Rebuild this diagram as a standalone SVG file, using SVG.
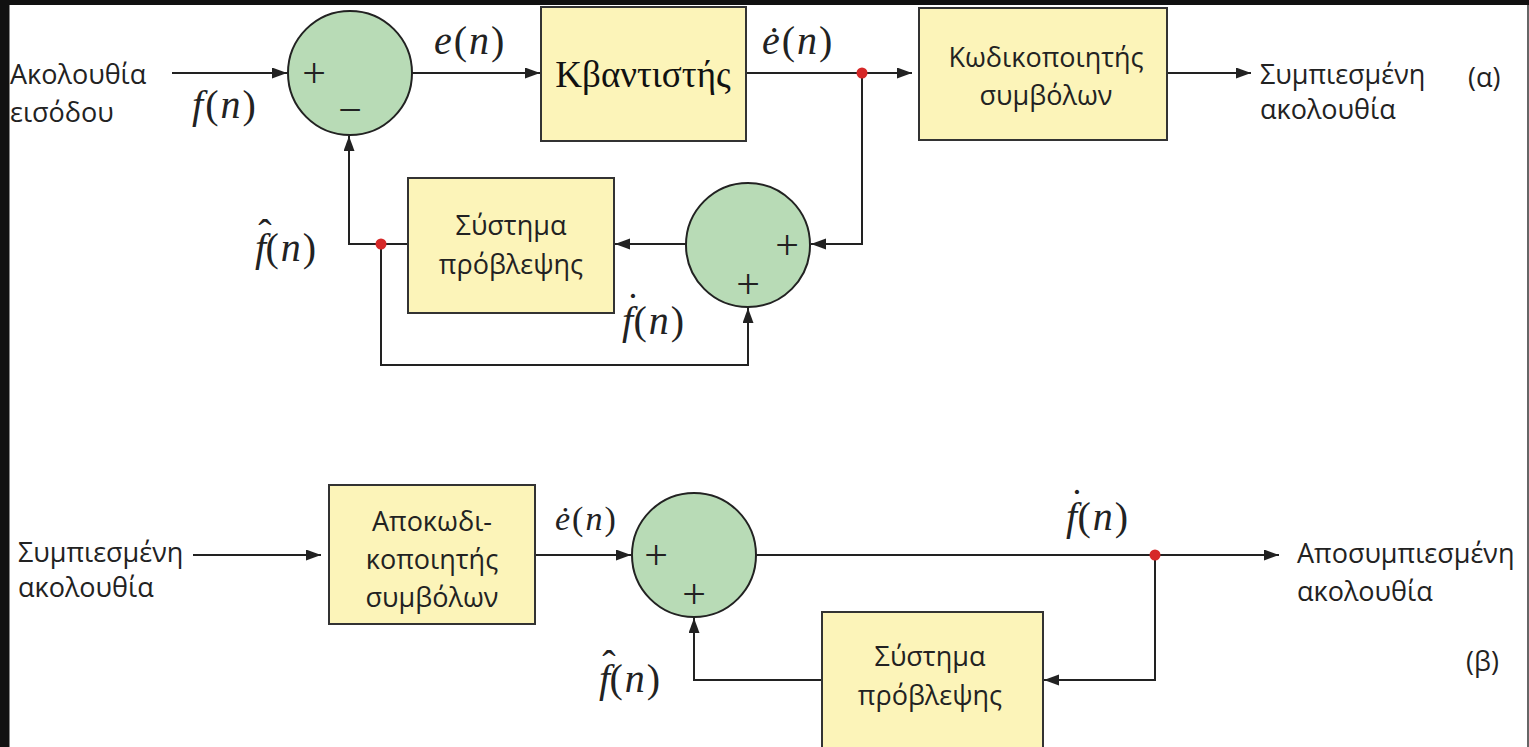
<svg xmlns="http://www.w3.org/2000/svg" width="1529" height="747" viewBox="0 0 1529 747">
<style>
.box{fill:#fcf4b9;stroke:#333;stroke-width:2}
.sum{fill:#b8dbb6;stroke:#222;stroke-width:2}
.ln{fill:none;stroke:#222;stroke-width:2}
.dot{fill:#d62828}
.t{font-family:"Open Sans","Noto Sans",sans-serif;font-size:27px;fill:#222}
.c{text-anchor:middle}
.m{font-family:"Liberation Serif",serif;font-size:40px;fill:#222;letter-spacing:2px}
.i{font-style:italic}
.sg{font-family:"Liberation Serif",serif;font-size:42px;fill:#222;text-anchor:middle}
.kv{font-family:"Liberation Serif",serif;font-size:37px;fill:#111;text-anchor:middle}
</style>
<defs>
<marker id="ar" markerUnits="userSpaceOnUse" markerWidth="16" markerHeight="12" refX="15" refY="5.5" orient="auto">
<path d="M0,0 L15,5.5 L0,11 z" fill="#222"/>
</marker>
</defs>
<rect x="0" y="0" width="1529" height="747" fill="#fff"/>
<rect x="0" y="0" width="1529" height="5" fill="#111"/>
<rect x="0" y="0" width="9" height="747" fill="#111"/>
<rect x="9" y="5" width="1" height="742" fill="#888"/>
<rect x="1527" y="5" width="2" height="742" fill="#666"/>

<g id="connectors">
<path class="ln" marker-end="url(#ar)" d="M172,73 H287"/>
<path class="ln" marker-end="url(#ar)" d="M412,73 H540"/>
<path class="ln" marker-end="url(#ar)" d="M747,73 H912"/>
<path class="ln" marker-end="url(#ar)" d="M1167,73 H1251"/>
<path class="ln" marker-end="url(#ar)" d="M862,73 V244 H811"/>
<path class="ln" marker-end="url(#ar)" d="M686,244 H615"/>
<path class="ln" marker-end="url(#ar)" d="M408,244 H349 V136"/>
<path class="ln" marker-end="url(#ar)" d="M381,244 V365 H748 V308"/>
<path class="ln" marker-end="url(#ar)" d="M193,555 H321"/>
<path class="ln" marker-end="url(#ar)" d="M535,555 H631"/>
<path class="ln" marker-end="url(#ar)" d="M756,555 H1279"/>
<path class="ln" marker-end="url(#ar)" d="M1155,555 V680 H1044"/>
<path class="ln" marker-end="url(#ar)" d="M822,680 H694 V618"/>
<circle class="dot" cx="862" cy="73" r="5.5"/>
<circle class="dot" cx="381" cy="244" r="5.5"/>
<circle class="dot" cx="1155" cy="555" r="5.5"/>
</g>

<g id="in-a">
<text class="t" x="10" y="84">Ακολουθία</text>
<text class="t" x="10" y="122">εισόδου</text>
</g>
<g id="label-fn"><text class="m" x="192" y="118"><tspan class="i">f</tspan>(<tspan class="i">n</tspan>)</text></g>

<g id="sum1">
<circle class="sum" cx="350" cy="73" r="62"/>
<text class="sg" x="314" y="87">+</text>
<text class="sg" x="350" y="124">−</text>
</g>
<g id="label-en"><text class="m" x="434" y="54"><tspan class="i">e</tspan>(<tspan class="i">n</tspan>)</text></g>

<g id="quantizer">
<rect class="box" x="541" y="7" width="205" height="134"/>
<text class="kv" x="643" y="87">Κβαντιστής</text>
</g>
<g id="label-edot">
<text class="m" x="762" y="54"><tspan class="i">ė</tspan>(<tspan class="i">n</tspan>)</text>
</g>

<g id="encoder">
<rect class="box" x="919" y="8" width="248" height="132"/>
<text class="t c" x="1046" y="67">Κωδικοποιητής</text>
<text class="t c" x="1046" y="105">συμβόλων</text>
</g>
<g id="out-a">
<text class="t" x="1260" y="84">Συμπιεσμένη</text>
<text class="t" x="1260" y="119">ακολουθία</text>
<text class="t" x="1468" y="87">(α)</text>
</g>

<g id="predictor-a">
<rect class="box" x="408" y="178" width="206" height="135"/>
<text class="t c" x="511" y="235">Σύστημα</text>
<text class="t c" x="511" y="274">πρόβλεψης</text>
</g>
<g id="label-fhat-a">
<text class="m" x="255" y="261"><tspan class="i">f</tspan><tspan dx="-10" dy="-14">ˆ</tspan><tspan dx="-8" dy="14">(</tspan><tspan class="i">n</tspan>)</text>
</g>

<g id="sum2">
<circle class="sum" cx="748" cy="245" r="62"/>
<text class="sg" x="787" y="259">+</text>
<text class="sg" x="748" y="298">+</text>
</g>
<g id="label-fdot-a">
<text class="m" x="622" y="334"><tspan class="i">f</tspan><tspan dx="-9" dy="-14">˙</tspan><tspan dx="-8" dy="14">(</tspan><tspan class="i">n</tspan>)</text>
</g>

<g id="in-b">
<text class="t" x="18" y="562">Συμπιεσμένη</text>
<text class="t" x="18" y="597">ακολουθία</text>
</g>

<g id="decoder">
<rect class="box" x="329" y="485" width="206" height="139"/>
<text class="t c" x="432" y="531">Αποκωδι-</text>
<text class="t c" x="432" y="569">κοποιητής</text>
<text class="t c" x="432" y="607">συμβόλων</text>
</g>
<g id="label-edot-b">
<text class="m" x="555" y="530" style="font-size:34px"><tspan class="i">ė</tspan>(<tspan class="i">n</tspan>)</text>
</g>

<g id="sum3">
<circle class="sum" cx="694" cy="555" r="62"/>
<text class="sg" x="656" y="569">+</text>
<text class="sg" x="694" y="608">+</text>
</g>

<g id="label-fdot-b">
<text class="m" x="1066" y="530"><tspan class="i">f</tspan><tspan dx="-9" dy="-14">˙</tspan><tspan dx="-8" dy="14">(</tspan><tspan class="i">n</tspan>)</text>
</g>

<g id="out-b">
<text class="t" x="1297" y="563">Αποσυμπιεσμένη</text>
<text class="t" x="1297" y="601">ακολουθία</text>
<text class="t" x="1466" y="671">(β)</text>
</g>

<g id="predictor-b">
<rect class="box" x="822" y="612" width="221" height="140"/>
<text class="t c" x="930" y="666">Σύστημα</text>
<text class="t c" x="930" y="705">πρόβλεψης</text>
</g>
<g id="label-fhat-b">
<text class="m" x="599" y="692"><tspan class="i">f</tspan><tspan dx="-10" dy="-14">ˆ</tspan><tspan dx="-8" dy="14">(</tspan><tspan class="i">n</tspan>)</text>
</g>
</svg>
